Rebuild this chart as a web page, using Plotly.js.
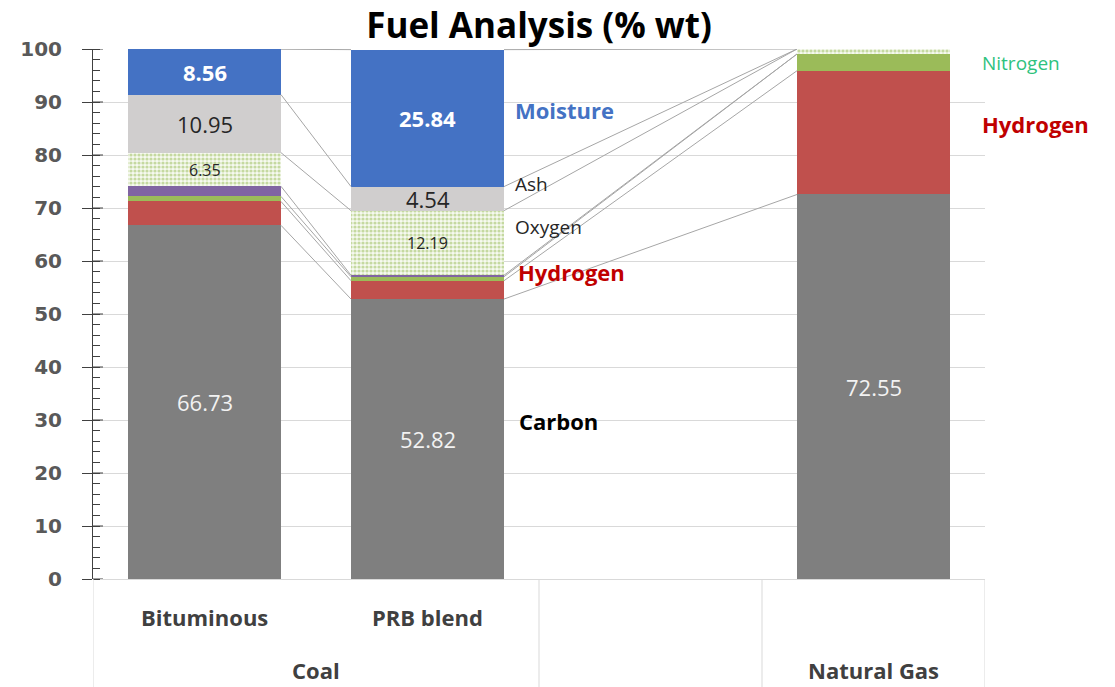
<!DOCTYPE html>
<html>
<head>
<meta charset="utf-8">
<script src="https://cdn.plot.ly/plotly-3.0.1.min.js"></script>
<style>html,body{margin:0;padding:0;background:#fff;}#chart{width:1115px;height:687px;}</style>
</head>
<body>
<div id="chart"></div>
<script>
// ---- data ----
const categories = ['Bituminous', 'PRB blend', '', ''];
const groups = ['Coal', '', 'Natural Gas'];
const groupSpans = [[0, 1], [2, 2], [3, 3]];
const seriesNames = ['Carbon', 'Hydrogen', 'Nitrogen', 'Sulfur', 'Oxygen', 'Ash', 'Moisture'];
const carbon   = [66.73, 52.82, null, 72.55];
const hydrogen = [4.50, 3.46, null, 23.35];
const nitrogen = [0.95, 0.75, null, 3.15];
const sulfur   = [1.91, 0.28, null, 0];
const oxygen   = [6.35, 12.19, null, 0.95];
const ash      = [10.95, 4.54, null, 0];
const moisture = [8.56, 25.84, null, 0];
const yTicks = [0, 10, 20, 30, 40, 50, 60, 70, 80, 90, 100];
// which values are labelled on bars
const labelled = {Carbon: [0, 1, 3], Oxygen: [0, 1], Ash: [0, 1], Moisture: [0, 1]};
// side labels: [text, category position, value, style]
const sideLabels = [
  ['Moisture', 1.385, 88.5, 'moist'],
  ['Ash', 1.385, 74.5, 'plain'],
  ['Oxygen', 1.385, 66.4, 'plain'],
  ['Hydrogen', 1.395, 57.9, 'hyd'],
  ['Carbon', 1.40, 29.8, 'carb'],
  ['Nitrogen', 3.478, 97.4, 'nit'],
  ['Hydrogen', 3.478, 85.8, 'hyd'],
  ['Carbon', 3.55, 40.8, 'carb']
];

const series = [carbon, hydrogen, nitrogen, sulfur, oxygen, ash, moisture];
const colors = ['#7f7f7f', '#c0504d', '#9bbb59', '#8064a2', '#ffffff', '#d0cece', '#4472c4'];
const FONT = 'Open Sans, Noto Sans, sans-serif';
const barW = 0.686;
const xs = categories.map((c, i) => i);

const traces = [];
series.forEach((vals, k) => {
  const t = {
    type: 'bar', x: xs, y: vals, name: seriesNames[k], width: barW,
    marker: {color: colors[k], line: {width: 0}},
    hoverinfo: 'y+name'
  };
  if (seriesNames[k] === 'Oxygen') {
    t.marker.pattern = {shape: '.', fgcolor: '#c5d9a0', bgcolor: '#f7faf1', size: 4, solidity: 0.5, fillmode: 'replace'};
  }
  traces.push(t);
});

// cumulative tops
const tops = series.map(() => xs.map(() => 0));
xs.forEach(i => {
  let c = 0;
  series.forEach((vals, k) => { c += (vals[i] || 0); tops[k][i] = c; });
});
const bottoms = series.map((vals, k) => xs.map(i => tops[k][i] - (vals[i] || 0)));

// series lines between consecutive non-empty bars
const present = xs.filter(i => carbon[i] !== null);
const lx = [], ly = [];
series.forEach((vals, k) => {
  for (let p = 0; p < present.length - 1; p++) {
    const a = present[p], b = present[p + 1];
    lx.push(a + barW / 2, b - barW / 2, null);
    ly.push(tops[k][a], tops[k][b], null);
  }
});
traces.push({type: 'scatter', mode: 'lines', x: lx, y: ly, line: {color: '#a6a6a6', width: 1}, hoverinfo: 'skip', showlegend: false});

const annotations = [];
// bar value labels
const labelStyle = {
  Carbon:   {color: '#f2f2f2', size: 22, weight: 'normal'},
  Oxygen:   {color: '#262626', size: 16, weight: 'normal'},
  Ash:      {color: '#262626', size: 22, weight: 'normal'},
  Moisture: {color: '#ffffff', size: 22, weight: 'bold'}
};
Object.keys(labelled).forEach(name => {
  const k = seriesNames.indexOf(name);
  labelled[name].forEach(i => {
    const st = labelStyle[name];
    annotations.push({
      x: i, y: (tops[k][i] + bottoms[k][i]) / 2, xref: 'x', yref: 'y',
      text: series[k][i].toFixed(2), showarrow: false,
      font: {family: FONT, size: st.size, color: st.color, weight: st.weight}
    });
  });
});
// side labels
const sideStyles = {
  moist: {color: '#4472c4', size: 22, weight: 'bold'},
  plain: {color: '#262626', size: 19, weight: 'normal'},
  hyd:   {color: '#c00000', size: 22, weight: 'bold'},
  carb:  {color: '#000000', size: 22, weight: 'bold'},
  nit:   {color: '#2ec27e', size: 19, weight: 'normal'}
};
sideLabels.forEach(s => {
  const st = sideStyles[s[3]];
  annotations.push({x: s[1], y: s[2], xref: 'x', yref: 'y', text: s[0], showarrow: false,
    xanchor: 'left', font: {family: FONT, size: st.size, color: st.color, weight: st.weight}});
});
// category labels
categories.forEach((c, i) => {
  if (!c) return;
  annotations.push({x: i, y: -0.072, xref: 'x', yref: 'paper', text: c, showarrow: false, yanchor: 'middle',
    font: {family: FONT, size: 22, color: '#404040', weight: 'bold'}});
});
groups.forEach((g, j) => {
  if (!g) return;
  const sp = groupSpans[j];
  annotations.push({x: (sp[0] + sp[1]) / 2, y: -0.172, xref: 'x', yref: 'paper', text: g, showarrow: false, yanchor: 'middle',
    font: {family: FONT, size: 22, color: '#404040', weight: 'bold'}});
});

// group separators
const shapes = [];
const seps = [-0.5];
groupSpans.forEach(sp => seps.push(sp[1] + 0.5));
seps.forEach(x => shapes.push({type: 'line', xref: 'x', yref: 'paper', x0: x, x1: x, y0: 0, y1: -0.21,
  line: {color: '#d9d9d9', width: 1}}));
// inner half of the crossing major ticks
yTicks.forEach(v => shapes.push({type: 'line', xref: 'paper', yref: 'y', x0: 0, x1: 0.0112, y0: v, y1: v,
  line: {color: '#404040', width: 1}}));

const layout = {
  width: 1115, height: 687,
  margin: {l: 93, r: 130, t: 49, b: 108},
  paper_bgcolor: '#ffffff', plot_bgcolor: '#ffffff',
  barmode: 'stack', showlegend: false,
  title: {text: 'Fuel Analysis (% wt)', x: 0.5, xref: 'paper', xanchor: 'center', y: 0.962, yanchor: 'middle',
    font: {family: FONT, size: 35, color: '#000000', weight: 'bold'}},
  xaxis: {range: [-0.5, 3.5], showticklabels: false, showgrid: false, zeroline: false, ticks: '', showline: false, fixedrange: true},
  yaxis: {range: [0, 100], tickvals: yTicks, ticktext: yTicks.map(String), showgrid: true, gridcolor: '#d9d9d9', gridwidth: 1,
    zeroline: true, zerolinecolor: '#d9d9d9', zerolinewidth: 1,
    showline: true, linecolor: '#404040', linewidth: 1,
    ticks: 'outside', ticklen: 10, tickcolor: '#404040', tickwidth: 1, ticklabelstandoff: 16,
    minor: {dtick: 2, ticks: 'inside', ticklen: 7, tickcolor: '#404040', showgrid: false},
    tickfont: {family: 'DejaVu Sans, sans-serif', size: 20, color: '#595959', weight: 'bold'}, fixedrange: true},
  annotations: annotations,
  shapes: shapes
};

Plotly.newPlot('chart', traces, layout, {displayModeBar: false, staticPlot: true});
</script>
</body>
</html>
